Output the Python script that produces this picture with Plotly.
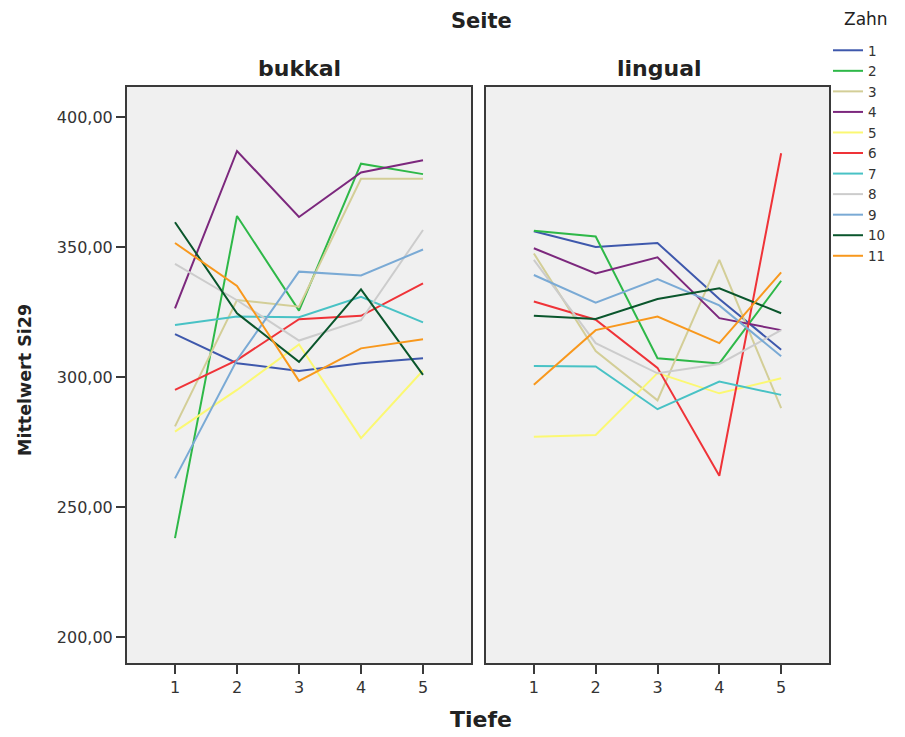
import plotly.graph_objects as go
from plotly.subplots import make_subplots

tiefe = [1, 2, 3, 4, 5]
zahn = ["1", "2", "3", "4", "5", "6", "7", "8", "9", "10", "11"]
colors = ["#3E58AC", "#2EB848", "#D3CE97", "#7C287D", "#FBF873", "#EF3338",
          "#48C2C5", "#CCCCCC", "#7AAAD5", "#0A562C", "#F8981D"]

# Mittelwert Si29, Seite = bukkal
bukkal = {
    "1":  [316.5, 305.3, 302.3, 305.3, 307.2],
    "2":  [238.0, 361.9, 325.5, 382.0, 378.0],
    "3":  [281.0, 329.6, 327.0, 376.2, 376.2],
    "4":  [326.4, 386.9, 361.5, 378.6, 383.3],
    "5":  [279.0, 295.0, 312.5, 276.5, 302.5],
    "6":  [295.0, 306.5, 322.2, 323.5, 336.0],
    "7":  [320.0, 323.2, 323.0, 330.8, 321.0],
    "8":  [343.5, 329.5, 314.0, 321.8, 356.5],
    "9":  [261.0, 306.5, 340.5, 339.0, 349.0],
    "10": [359.5, 324.5, 305.8, 333.7, 300.8],
    "11": [351.5, 335.0, 298.5, 311.0, 314.5],
}
# Mittelwert Si29, Seite = lingual
lingual = {
    "1":  [356.0, 350.0, 351.5, 330.0, 310.5],
    "2":  [356.2, 354.0, 307.2, 305.2, 337.0],
    "3":  [347.5, 310.0, 291.0, 345.0, 288.0],
    "4":  [349.5, 339.8, 346.0, 322.6, 318.0],
    "5":  [277.0, 277.7, 301.5, 293.7, 299.5],
    "6":  [329.0, 322.0, 303.5, 262.0, 386.0],
    "7":  [304.2, 304.0, 287.6, 298.2, 293.1],
    "8":  [345.0, 313.0, 301.4, 305.0, 318.0],
    "9":  [339.2, 328.6, 337.6, 327.5, 308.0],
    "10": [323.5, 322.3, 330.0, 334.1, 324.5],
    "11": [297.0, 318.0, 323.2, 313.0, 340.2],
}

fig = make_subplots(rows=1, cols=2, shared_yaxes=True)

for i, z in enumerate(zahn):
    fig.add_trace(go.Scatter(x=tiefe, y=bukkal[z], mode="lines", name=z,
                             legendgroup=z, showlegend=True,
                             line=dict(color=colors[i], width=2)), row=1, col=1)
    fig.add_trace(go.Scatter(x=tiefe, y=lingual[z], mode="lines", name=z,
                             legendgroup=z, showlegend=False,
                             line=dict(color=colors[i], width=2)), row=1, col=2)

W, H = 905, 737
FONT = "DejaVu Sans"
ydom = [1 - 663 / H, 1 - 87 / H]
axis_common = dict(showline=True, linecolor="#3a3a3a", linewidth=2, mirror=True,
                   showgrid=False, zeroline=False, ticks="outside",
                   tickcolor="#3a3a3a", ticklen=9, tickwidth=1.5,
                   tickfont=dict(family=FONT, size=16, color="#333333"))

fig.update_xaxes(range=[0.226, 5.774], tickvals=tiefe, ticktext=[str(t) for t in tiefe],
                 **axis_common)
fig.update_layout(
    xaxis=dict(domain=[127 / W, 471 / W]),
    xaxis2=dict(domain=[486 / W, 829 / W]),
)
fig.update_yaxes(range=[190, 411.5], domain=ydom, **axis_common)
fig.update_yaxes(tickvals=[200, 250, 300, 350, 400],
                 ticktext=["200,00", "250,00", "300,00", "350,00", "400,00"], row=1, col=1)
fig.update_yaxes(ticks="", showticklabels=False, row=1, col=2)

ann = [
    dict(text="<b>Seite</b>", x=481 / W, y=1 - 21 / H, font=dict(size=21)),
    dict(text="<b>bukkal</b>", x=299 / W, y=1 - 68 / H, font=dict(size=22)),
    dict(text="<b>lingual</b>", x=659 / W, y=1 - 68 / H, font=dict(size=22)),
    dict(text="<b>Tiefe</b>", x=481 / W, y=1 - 719 / H, font=dict(size=22)),
    dict(text="<b>Mittelwert Si29</b>", x=25 / W, y=1 - 380 / H, font=dict(size=17.5),
         textangle=-90),
    dict(text="Zahn", x=866 / W, y=1 - 19 / H, font=dict(size=17)),
]
for a in ann:
    a.update(xref="paper", yref="paper", showarrow=False, xanchor="center",
             yanchor="middle")
    a["font"].update(family=FONT, color="#222222")

fig.update_layout(
    width=W, height=H,
    margin=dict(l=0, r=0, t=0, b=0),
    paper_bgcolor="white",
    plot_bgcolor="#F0F0F0",
    annotations=ann,
    legend=dict(x=828 / W, y=1 - 35 / H, xanchor="left", yanchor="top",
                font=dict(family=FONT, size=13.5, color="#333333"),
                bgcolor="rgba(0,0,0,0)", tracegroupgap=0, itemwidth=30),
)

fig.write_html("out.html")
